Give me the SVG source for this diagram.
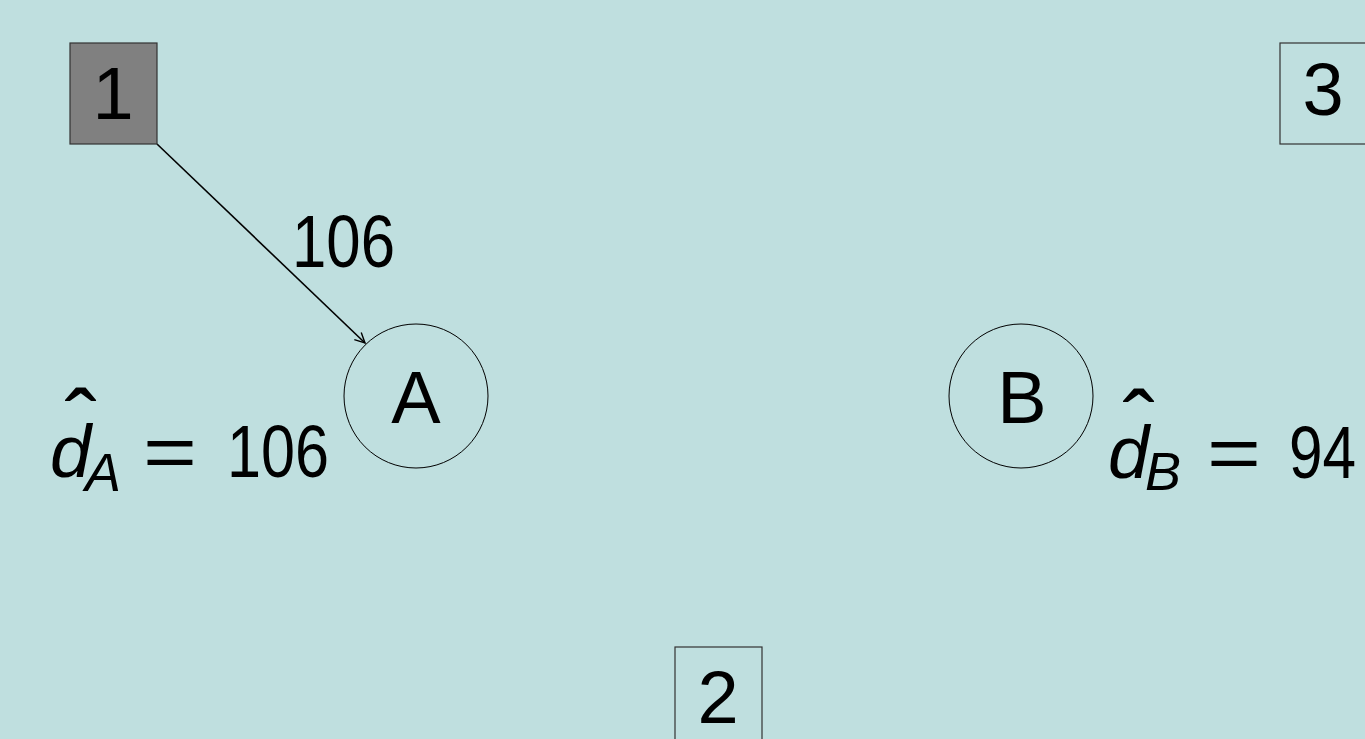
<svg xmlns="http://www.w3.org/2000/svg" width="1365" height="739" viewBox="0 0 1365 739">
<defs>
<style>
.t{font-family:"Liberation Sans","DejaVu Sans",sans-serif;fill:#000;font-size:74px}
.it{font-style:italic}
.hat{font-size:96px}
.sub{font-size:54px;font-style:italic}
.box{stroke:#333;stroke-width:1.2}
.circ{fill:none;stroke:#000;stroke-width:1}
.edge{stroke:#000;stroke-width:1.6;fill:none}
</style>
<marker id="arr" viewBox="0 0 12 12" refX="11" refY="6" markerWidth="12" markerHeight="12" markerUnits="userSpaceOnUse" orient="auto">
<path d="M1,1 L11,6 L1,11" fill="none" stroke="#000" stroke-width="1.4"/>
</marker>
</defs>
<rect x="0" y="0" width="1365" height="739" fill="#bfdfdf"/>
<g id="connectors">
<line class="edge" x1="157" y1="144" x2="365" y2="343" marker-end="url(#arr)"/>
<text class="t" x="292" y="267" textLength="103" lengthAdjust="spacingAndGlyphs">106</text>
</g>
<g id="node1">
<rect class="box" x="70" y="43" width="87" height="101" fill="#808080"/>
<text class="t" x="113" y="119" text-anchor="middle">1</text>
</g>
<g id="node3">
<rect class="box" x="1280" y="43" width="100" height="101" fill="none"/>
<text class="t" x="1323" y="115" text-anchor="middle">3</text>
</g>
<g id="node2">
<rect class="box" x="675" y="647" width="87" height="110" fill="none"/>
<text class="t" x="718" y="723" text-anchor="middle">2</text>
</g>
<g id="nodeA">
<circle class="circ" cx="416" cy="396" r="72"/>
<text class="t" x="416" y="423" text-anchor="middle">A</text>
</g>
<g id="nodeB">
<circle class="circ" cx="1021" cy="396" r="72"/>
<text class="t" x="1022" y="423" text-anchor="middle">B</text>
</g>
<g id="labelA">
<text class="t it" x="50" y="477">d</text>
<text class="t hat" x="81" y="458" text-anchor="middle">ˆ</text>
<text class="t sub" x="85" y="491">A</text>
<text class="t" x="143" y="477" textLength="54" lengthAdjust="spacingAndGlyphs">=</text>
<text class="t" x="227" y="477" textLength="102" lengthAdjust="spacingAndGlyphs">106</text>
</g>
<g id="labelB">
<text class="t it" x="1108" y="478">d</text>
<text class="t hat" x="1139" y="459" text-anchor="middle">ˆ</text>
<text class="t sub" x="1145" y="490">B</text>
<text class="t" x="1207" y="478" textLength="54" lengthAdjust="spacingAndGlyphs">=</text>
<text class="t" x="1289" y="478" textLength="67" lengthAdjust="spacingAndGlyphs">94</text>
</g>
</svg>
